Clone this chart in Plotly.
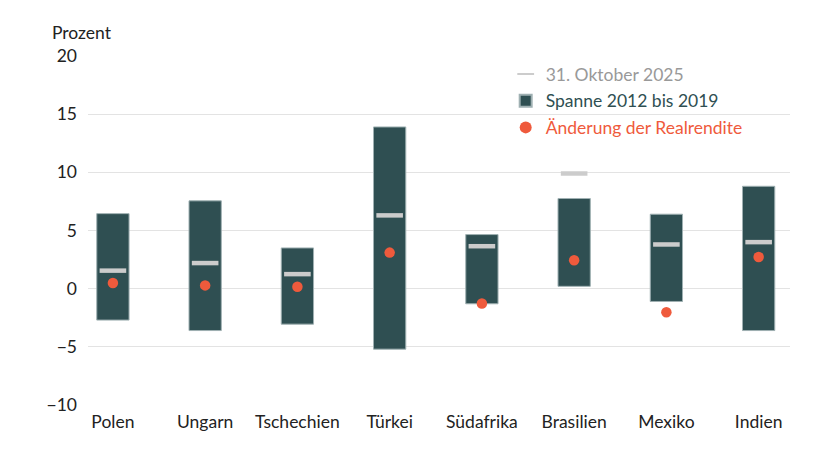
import plotly.graph_objects as go

countries = ["Polen", "Ungarn", "Tschechien", "Türkei", "Südafrika", "Brasilien", "Mexiko", "Indien"]
range_low = [-2.7, -3.6, -3.05, -5.2, -1.3, 0.2, -1.1, -3.6]
range_high = [6.45, 7.55, 3.5, 13.9, 4.65, 7.75, 6.4, 8.8]
oct_2025 = [1.55, 2.2, 1.25, 6.3, 3.65, 9.9, 3.8, 4.0]
change_real = [0.48, 0.28, 0.17, 3.1, -1.27, 2.45, -2.02, 2.72]

TEAL = "#2f4f52"
ORANGE = "#ef5a3c"
GREY = "#cccccc"
FONT = "Lato, 'Noto Sans', sans-serif"
FS = 17.5

x_idx = list(range(len(countries)))

fig = go.Figure()

fig.add_trace(go.Bar(
    x=x_idx,
    y=[h - l for h, l in zip(range_high, range_low)],
    base=range_low,
    width=0.35,
    name=f"<span style='color:{TEAL}'>Spanne 2012 bis 2019</span>",
    legendrank=2, legendgroup="b",
    marker=dict(color=TEAL, line=dict(color="#9fb0b2", width=1)),
))

fig.add_trace(go.Scatter(
    x=x_idx, y=oct_2025, mode="markers",
    name="<span style='color:#999999'>31. Oktober 2025</span>",
    legendrank=1, legendgroup="a",
    marker=dict(symbol="line-ew", size=19, line=dict(color=GREY, width=4.5)),
    hoverinfo="skip",
))

fig.add_trace(go.Scatter(
    x=x_idx, y=change_real, mode="markers",
    name=f"<span style='color:{ORANGE}'>Änderung der Realrendite</span>",
    legendrank=3, legendgroup="c",
    marker=dict(symbol="circle", size=10.5, color=ORANGE),
))

fig.update_layout(
    width=840, height=457,
    margin=dict(l=80, r=58, t=48, b=60),
    paper_bgcolor="white", plot_bgcolor="white",
    font=dict(family=FONT, size=FS, color="#222222"),
    showlegend=True,
    legend=dict(
        x=0.595, y=1.0, xanchor="left", yanchor="top",
        bgcolor="rgba(0,0,0,0)", font=dict(size=FS),
        traceorder="grouped", itemsizing="constant",
        tracegroupgap=1,
    ),
)

fig.update_xaxes(
    range=[-0.27, 7.34],
    tickmode="array", tickvals=x_idx, ticktext=countries,
    showgrid=False, zeroline=False, showline=False, ticks="",
    ticklabelstandoff=4,
    tickfont=dict(size=FS, color="#222222"),
)
fig.update_yaxes(
    range=[-10, 20], tickvals=[-10, -5, 0, 5, 10, 15, 20],
    showgrid=True, gridcolor="#e3e3e3", gridwidth=1,
    zeroline=False, showline=False, ticks="", ticklabelstandoff=10,
    tickfont=dict(size=FS, color="#222222"),
)

fig.add_annotation(
    text="Prozent", xref="paper", yref="paper", x=-0.054, y=1.066,
    xanchor="left", yanchor="middle", showarrow=False,
    font=dict(size=FS, color="#222222"),
)

fig.write_html("out.html")
